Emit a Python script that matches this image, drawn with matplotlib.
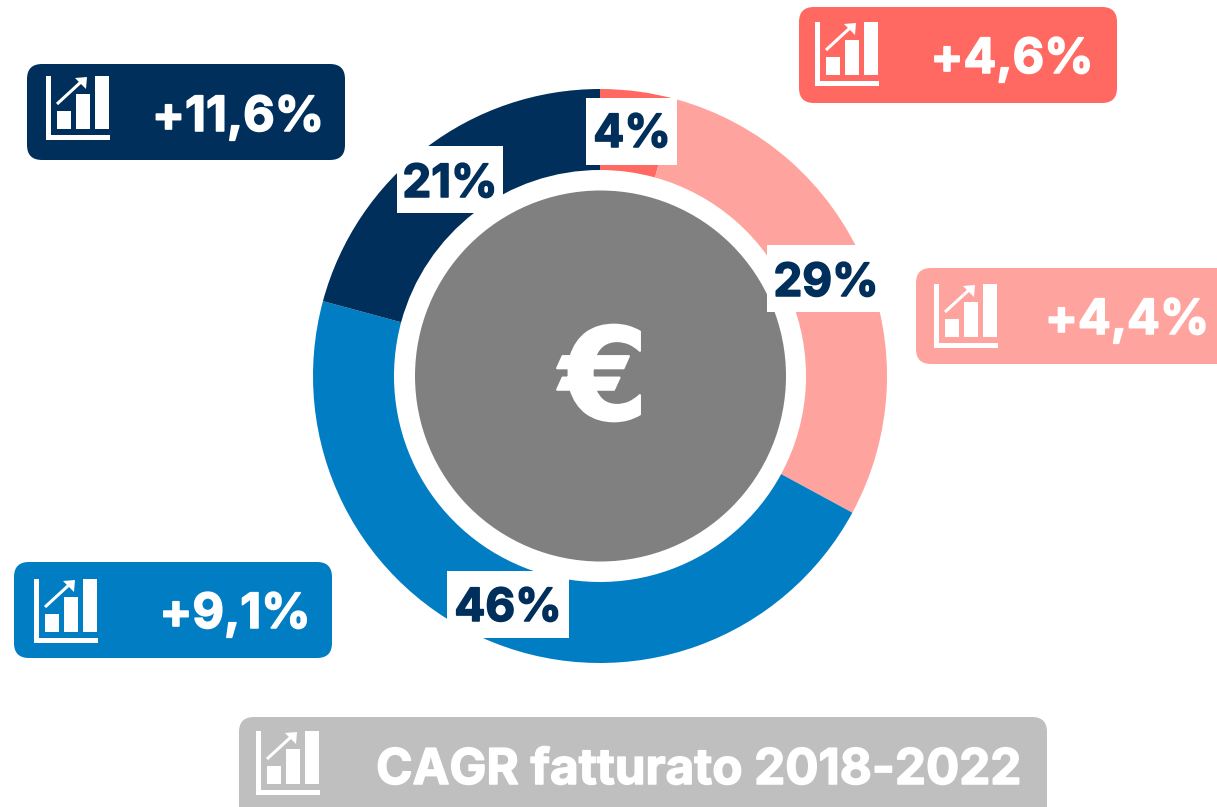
#!/usr/bin/env python3
import matplotlib
matplotlib.use('Agg')
import matplotlib.pyplot as plt
import matplotlib.patheffects as pe
from matplotlib.patches import Circle, FancyBboxPatch, Polygon, Rectangle

W, H = 1217, 807

shares = [4.3, 28.6, 46.3, 20.8]
slice_colors = ['#FF6961', '#FFA39E', '#007DC3', '#002F5B']
share_labels = ['4%', '29%', '46%', '21%']
cagr_labels = ['+4,6%', '+4,4%', '+9,1%', '+11,6%']
legend_label = 'CAGR fatturato 2018-2022'

FONT = 'Inter'
NAVY = '#002F5B'


def py(y):
    # picture y (from the top) to axes y
    return H - y


def heavy(color, lw=1.1):
    # Inter bold is lighter than the original face, so thicken it a bit
    return [pe.withStroke(linewidth=lw, foreground=color)]


def draw_icon(ax, x0, y0, color='white'):
    # small growth-chart icon, x0/y0 is its top left corner in picture pixels
    def rect(x, y, w, h):
        ax.add_patch(Rectangle((x0 + x, py(y0 + y + h)), w, h, fc=color, ec='none', zorder=6))
    rect(0, 0, 5, 64)
    rect(0, 59, 64, 5)
    rect(11, 35, 14, 18)
    rect(30, 18, 14, 35)
    rect(49, 0, 14, 53)
    # arrow shaft and head
    ax.plot([x0 + 11, x0 + 36], [py(y0 + 28), py(y0 + 5)], color=color, lw=2.2, zorder=7,
            solid_capstyle='butt')
    ax.add_patch(Polygon([(x0 + 29, py(y0 + 2)), (x0 + 41, py(y0 + 1)), (x0 + 40, py(y0 + 13))],
                         fc=color, ec='none', zorder=7))


def draw_badge(ax, x, y, w, h, color, icon_xy, label, label_x, label_y, size=35):
    pad = 15
    ax.add_patch(FancyBboxPatch((x + pad, py(y + h) + pad), w - 2 * pad, h - 2 * pad,
                                boxstyle=f'round,pad={pad},rounding_size={pad}',
                                fc=color, ec='none', zorder=5))
    draw_icon(ax, *icon_xy)
    ax.text(label_x, py(label_y), label, color='white', fontsize=size, fontweight='bold',
            family=FONT, ha='center', va='center', zorder=7, path_effects=heavy('white'))


def draw_share(ax, x, y, w, h, label, label_x, label_y):
    ax.add_patch(Rectangle((x, py(y + h)), w, h, fc='white', ec='none', zorder=4))
    ax.text(label_x, py(label_y), label, color=NAVY, fontsize=33, fontweight='bold',
            family=FONT, ha='center', va='center', zorder=5, path_effects=heavy(NAVY))


def main():
    fig = plt.figure(figsize=(W / 100, H / 100), dpi=100)
    ax = fig.add_axes([0, 0, 1, 1])

    cx, cy = 600, py(376)
    ax.pie(shares, colors=slice_colors, startangle=90, counterclock=False,
           center=(cx, cy), radius=287, wedgeprops=dict(width=81, linewidth=0))
    ax.add_patch(Circle((cx + 0.5, cy), 185.5, fc='#808080', ec='none', zorder=3))
    ax.text(cx + 4, cy - 8, '€', color='white', fontsize=92, fontweight='bold',
            family='DejaVu Sans', ha='center', va='center', zorder=4,
            path_effects=heavy('white', 1.5))

    draw_share(ax, 586, 98, 91, 67, share_labels[0], 632, 135)
    draw_share(ax, 767, 245, 118, 67, share_labels[1], 826, 284)
    draw_share(ax, 447, 571, 122, 67, share_labels[2], 508, 609)
    draw_share(ax, 397, 146, 106, 67, share_labels[3], 450, 185)

    draw_badge(ax, 799, 7, 318, 96, '#FF6961', (815, 22), cagr_labels[0], 1012, 60)
    draw_badge(ax, 916, 268, 340, 96, '#FFA39E', (934, 284), cagr_labels[1], 1127, 321)
    draw_badge(ax, 14, 562, 318, 96, '#007DC3', (34, 579), cagr_labels[2], 235, 615)
    draw_badge(ax, 27, 64, 318, 96, NAVY, (46, 76), cagr_labels[3], 238, 118)
    draw_badge(ax, 239, 717, 808, 120, '#BFBFBF', (256, 731), legend_label, 699, 771, size=35.5)

    ax.set_xlim(0, W)
    ax.set_ylim(0, H)
    ax.set_aspect('auto')
    ax.axis('off')
    fig.savefig('out.png', dpi=100)


if __name__ == "__main__":
    main()
